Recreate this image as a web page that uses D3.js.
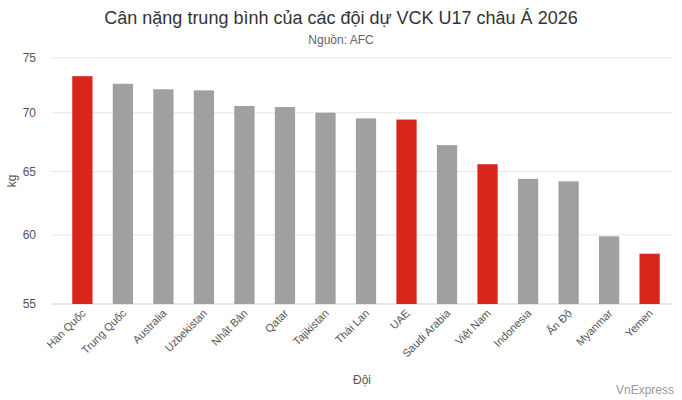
<!DOCTYPE html>
<html><head><meta charset="utf-8">
<script src="https://cdn.jsdelivr.net/npm/d3@7"></script>
<style>body{margin:0;background:#fff}svg{font-family:Arial,"Liberation Sans",sans-serif}</style>
</head><body><div id="viz"></div>
<script>
var width = 682, height = 400;

var doi = ['Hàn Quốc','Trung Quốc','Australia','Uzbekistan','Nhật Bản','Qatar','Tajikistan','Thái Lan','UAE','Saudi Arabia','Việt Nam','Indonesia','Ấn Độ','Myanmar','Yemen'];
var canNang = [73.3,72.6,72.1,72.0,70.6,70.5,70.0,69.5,69.4,67.2,65.6,64.4,64.2,59.9,58.6];
var noiBat = ['Hàn Quốc','UAE','Việt Nam','Yemen'];
var yTicks = [55,60,65,70,75];

var svg = d3.select('#viz').append('svg')
  .attr('width', width).attr('height', height);

var x = d3.scaleBand().domain(doi).range([52, 680]).padding(0.5);
var y = d3.scaleLog().domain([55, 75]).range([304, 58]);

// luoi
svg.append('g').selectAll('line').data(yTicks).enter().append('line')
  .attr('x1', 52).attr('x2', 672)
  .attr('y1', function(d){ return y(d); }).attr('y2', function(d){ return y(d); })
  .attr('stroke', function(d){ return d == 55 ? '#ccc' : '#e6e6e6'; });

svg.append('g').selectAll('text').data(yTicks).enter().append('text')
  .attr('x', 36).attr('y', function(d){ return y(d) + 4; })
  .attr('text-anchor', 'end').attr('font-size', 12).attr('fill', '#555')
  .text(function(d){ return d; });

svg.append('g').selectAll('rect').data(doi).enter().append('rect')
  .attr('x', function(d){ return x(d); })
  .attr('width', x.bandwidth())
  .attr('y', function(d, i){ return y(canNang[i]); })
  .attr('height', function(d, i){ return y(55) - y(canNang[i]); })
  .attr('fill', function(d){ return noiBat.indexOf(d) >= 0 ? '#d9261c' : '#a0a0a0'; });

svg.append('g').selectAll('text').data(doi).enter().append('text')
  .attr('transform', function(d){ return 'translate(' + (x(d) + x.bandwidth()/2 + 4) + ',314) rotate(-45)'; })
  .attr('text-anchor', 'end').attr('font-size', 11).attr('fill', '#555')
  .text(function(d){ return d; });

svg.append('text').attr('x', 341).attr('y', 24).attr('text-anchor', 'middle')
  .attr('font-size', 18).attr('fill', '#333').text('Cân nặng trung bình của các đội dự VCK U17 châu Á 2026');
svg.append('text').attr('x', 341).attr('y', 44).attr('text-anchor', 'middle')
  .attr('font-size', 12).attr('fill', '#666').text('Nguồn: AFC');
svg.append('text').attr('transform', 'translate(16,181) rotate(-90)').attr('text-anchor', 'middle')
  .attr('font-size', 12).attr('fill', '#555').text('kg');
svg.append('text').attr('x', 362).attr('y', 384).attr('text-anchor', 'middle')
  .attr('font-size', 12).attr('fill', '#555').text('Đội');
svg.append('text').attr('x', 674).attr('y', 394).attr('text-anchor', 'end')
  .attr('font-size', 12).attr('fill', '#999').text('VnExpress');
</script></body></html>
